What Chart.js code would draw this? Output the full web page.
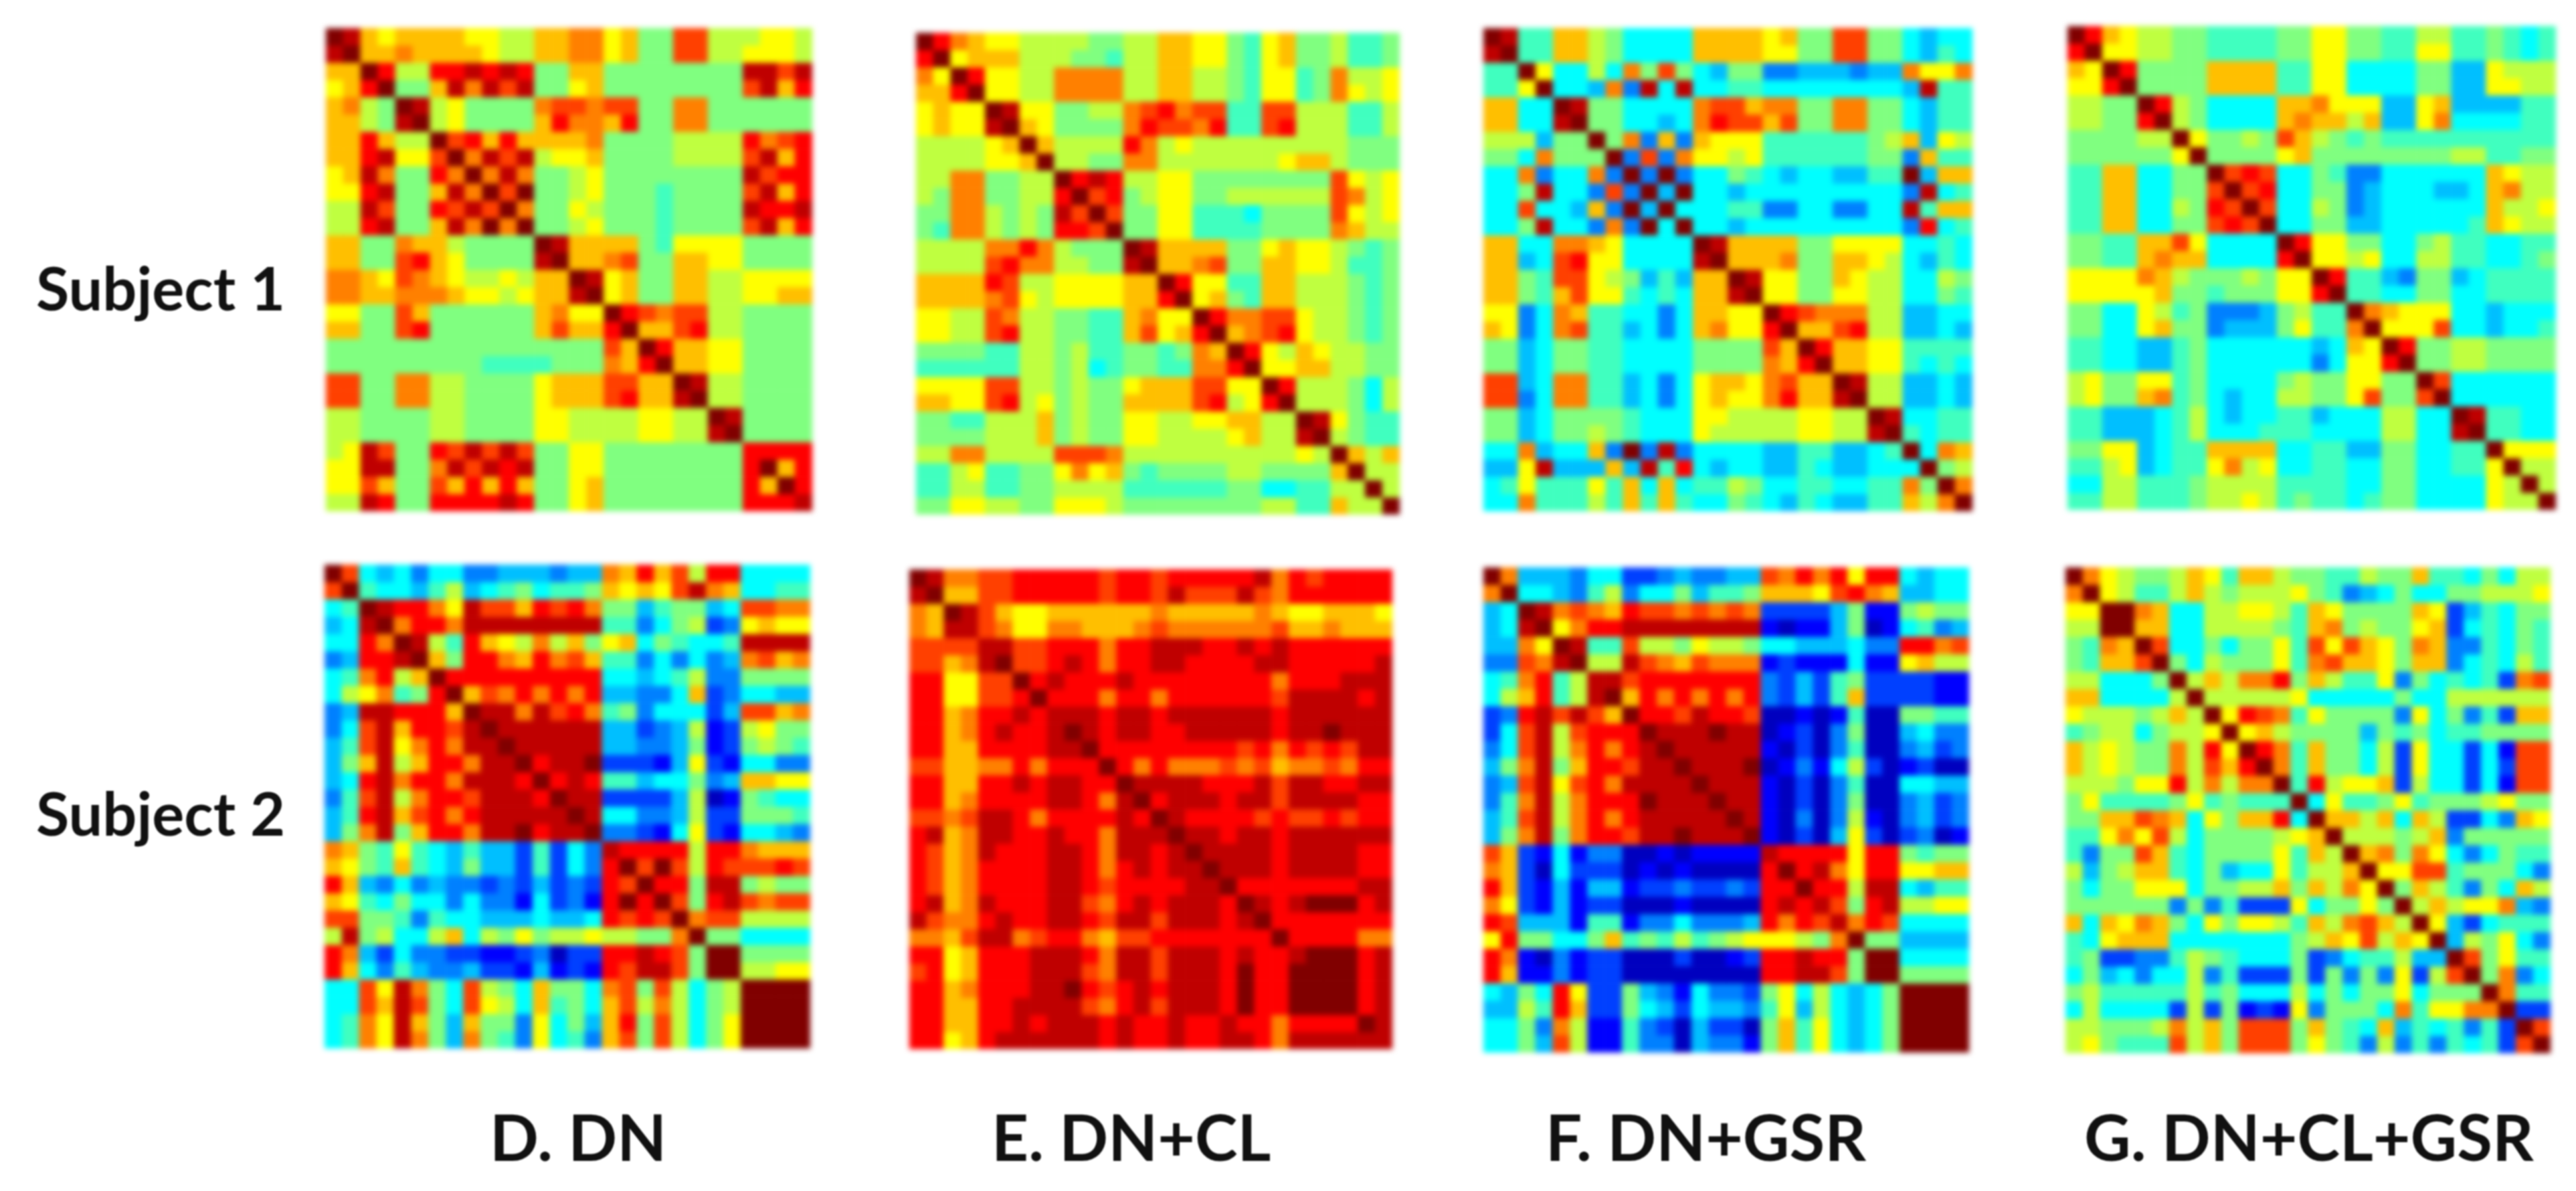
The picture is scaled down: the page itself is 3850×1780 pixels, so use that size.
<!DOCTYPE html>
<html>
<head>
<meta charset="utf-8">
<title>Connectivity matrices</title>
<script src="https://cdn.jsdelivr.net/npm/chart.js@4"></script>
<style>
  html, body { margin: 0; background: #fff; }
  #page { position: relative; width: 3850px; height: 1780px; overflow: hidden; }
  .panel { position: absolute; filter: blur(4px); }
  .label {
    position: absolute;
    font-family: Lato, sans-serif;
    font-weight: 700;
    color: #111;
    white-space: nowrap;
    filter: blur(1px);
  }
</style>
</head>
<body>
<div id="page"></div>
<script>
// Matrices are symmetric, so each row holds the cells from the diagonal to the right edge.
// Levels 0-15 run along the jet colormap, 15 being the dark red of the diagonal.
const subject1DN = [
  [15,14,10,9,10,10,10,10,9,9,8,8,10,10,11,11,9,10,7,7,12,12,8,8,8,9,9,8],
  [15,10,10,11,10,10,10,10,9,8,8,10,10,11,11,9,10,7,7,12,12,8,8,9,9,9,8],
  [15,13,8,8,13,13,14,13,14,13,7,7,10,10,7,7,7,7,7,7,7,7,14,14,12,14],
  [15,7,7,10,14,11,14,12,14,7,7,9,10,7,7,7,7,7,7,7,7,12,14,10,13],
  [15,14,8,9,7,7,7,7,11,12,12,11,12,12,7,7,11,11,7,7,7,7,7,7],
  [15,8,9,7,7,7,7,10,13,11,11,10,13,7,7,11,11,7,7,7,7,7,7],
  [15,12,13,10,13,10,10,10,10,11,7,7,7,7,8,8,8,8,13,11,12,13],
  [15,11,14,12,14,8,9,9,10,7,7,7,7,8,8,8,8,12,14,10,13],
  [15,11,14,11,7,7,8,9,7,7,7,7,7,7,7,7,14,12,13,13],
  [15,12,15,7,7,8,9,7,7,7,6,7,7,7,7,12,14,10,13],
  [15,11,7,7,9,8,7,7,7,6,7,7,7,7,14,13,13,14],
  [15,7,7,8,9,7,7,7,6,7,7,7,7,12,14,10,13],
  [15,14,10,10,10,10,7,6,9,9,9,9,7,7,7,7],
  [15,10,10,11,12,7,7,10,10,9,9,7,7,7,7],
  [15,14,9,10,7,7,10,10,8,8,9,9,9,9],
  [15,9,10,7,7,10,10,8,8,9,9,10,10],
  [15,13,12,11,12,12,8,8,7,7,7,7],
  [15,10,10,12,13,8,8,7,7,7,7],
  [15,13,10,10,9,9,7,7,7,7],
  [15,10,10,9,9,7,7,7,7],
  [15,14,8,8,7,7,7,7],
  [15,8,8,7,7,7,7],
  [15,14,7,7,7,7],
  [15,7,7,7,7],
  [13,13,13,13],
  [15,10,13],
  [15,13],
  [14]
];
const subject1CL = [
  [15,13,11,10,9,9,8,8,8,8,7,7,8,8,10,10,9,9,7,6,9,10,7,7,8,6,6,7],
  [15,9,10,10,10,8,8,8,7,7,6,8,8,10,10,9,9,7,6,9,10,7,7,8,6,6,7],
  [15,13,9,9,8,8,11,11,11,11,8,8,10,10,8,8,7,6,9,9,6,7,11,8,8,9],
  [15,9,9,8,8,11,11,11,11,8,8,10,10,8,8,7,6,9,9,6,7,11,9,8,9],
  [15,14,9,9,7,7,8,8,11,12,13,11,12,12,6,6,12,12,8,8,8,6,6,8],
  [15,10,9,7,7,7,7,11,13,12,12,11,13,6,6,12,13,8,8,8,6,6,8],
  [15,10,8,8,8,8,13,11,8,9,8,8,8,8,8,8,8,8,8,7,7,7],
  [15,8,8,7,7,11,11,8,8,8,8,8,8,8,9,10,10,8,7,7,7],
  [15,13,14,13,8,8,9,9,7,7,7,7,7,7,7,7,12,9,8,9],
  [15,12,13,7,8,9,9,7,7,8,8,8,8,8,8,12,11,8,9],
  [15,12,7,7,9,9,6,6,6,5,7,7,7,7,12,9,8,9],
  [15,7,7,9,9,6,6,6,6,7,7,7,7,11,10,8,8],
  [15,14,10,10,10,10,7,7,9,10,9,9,8,7,6,7],
  [15,10,10,11,12,7,7,10,10,9,9,8,6,6,7],
  [15,13,9,9,6,6,10,10,8,8,8,7,6,7],
  [15,9,10,7,6,10,10,8,8,8,7,6,7],
  [15,13,11,11,12,12,9,8,8,7,6,7],
  [15,10,11,12,13,9,8,8,7,6,7],
  [15,13,9,8,10,9,8,8,7,7],
  [15,9,9,10,10,8,8,7,7],
  [15,13,8,8,8,7,5,8],
  [15,8,8,8,7,5,8],
  [15,14,9,7,6,6],
  [15,8,7,6,6],
  [15,10,8,10],
  [15,8,8],
  [15,8],
  [15]
];
const subject1GSR = [
  [15,14,6,6,10,10,8,7,5,5,5,5,10,10,10,10,9,10,7,7,12,12,7,7,5,4,5,5],
  [15,6,6,10,10,8,7,5,5,5,5,10,10,10,10,9,9,7,7,12,12,7,7,5,4,6,5],
  [15,9,5,5,8,5,11,7,12,7,5,4,7,7,3,3,4,4,4,3,4,4,11,9,9,11],
  [15,5,5,4,11,3,14,5,14,5,5,6,6,5,5,5,5,5,5,5,5,4,14,6,6],
  [15,14,7,7,5,5,5,5,11,12,12,10,11,11,7,7,11,11,7,7,5,4,6,6],
  [15,7,7,5,5,4,5,11,13,12,12,10,12,7,7,11,11,7,7,5,4,6,6],
  [15,7,11,3,10,3,10,9,9,9,6,6,6,6,6,6,7,8,10,4,9,8],
  [15,3,12,3,11,9,9,8,9,6,6,6,6,6,6,7,7,3,10,6,6],
  [15,3,15,3,5,5,7,6,5,4,5,5,4,4,6,6,15,4,10,10],
  [15,4,15,5,5,4,5,5,5,5,5,5,5,5,5,3,14,5,6],
  [15,5,5,5,6,6,3,3,5,5,3,3,5,5,14,6,10,10],
  [15,5,5,4,5,5,5,5,5,5,5,5,5,3,13,5,6],
  [15,14,10,10,10,10,7,7,9,9,9,9,5,5,6,5],
  [15,10,10,10,11,7,7,10,10,9,8,5,4,6,5],
  [15,14,9,9,7,7,10,9,8,8,5,5,8,7],
  [15,9,9,7,7,9,9,8,8,5,5,7,6],
  [15,13,12,11,11,11,8,8,4,4,5,5],
  [15,10,10,12,13,8,8,4,4,5,4],
  [15,13,10,10,9,9,6,6,6,6],
  [15,10,10,9,9,6,5,6,5],
  [15,14,8,8,4,4,5,4],
  [15,8,8,4,4,5,4],
  [15,14,5,5,6,6],
  [15,6,5,6,6],
  [15,5,11,10],
  [15,7,8],
  [15,11],
  [15]
];
const subject1CLGSR = [
  [15,13,10,9,8,8,7,7,6,6,6,6,7,7,9,9,7,7,6,6,8,8,6,6,7,6,5,6],
  [15,9,9,8,8,7,7,6,6,6,6,7,7,9,9,7,7,6,6,9,9,6,6,7,6,5,6],
  [15,13,7,7,7,7,10,10,10,10,6,6,9,9,5,5,5,5,7,7,4,4,9,8,8,8],
  [15,7,7,7,7,10,10,10,10,6,6,9,9,5,5,5,5,7,7,4,4,9,9,8,8],
  [15,13,8,7,5,5,5,5,10,10,11,9,9,9,4,4,9,10,4,4,4,4,6,6],
  [15,8,7,5,5,5,5,10,11,10,10,8,10,4,4,9,11,5,5,5,5,6,6],
  [15,9,7,7,8,7,12,10,8,7,6,7,6,6,6,6,6,6,6,6,6,6],
  [15,7,7,7,7,9,10,7,7,7,7,7,7,7,7,8,8,6,6,7,7],
  [15,12,13,12,5,5,7,6,3,3,5,5,5,5,5,5,10,9,8,8],
  [15,12,13,5,5,7,7,3,4,5,5,5,4,4,5,10,11,8,8],
  [15,12,5,5,8,7,3,4,5,5,5,5,5,5,10,8,8,9],
  [15,5,5,7,7,4,4,5,5,5,5,5,6,10,9,8,8],
  [15,13,9,9,7,7,5,5,7,8,6,6,5,5,6,6],
  [15,9,9,8,9,5,5,8,8,6,6,5,5,6,7],
  [15,13,6,6,4,3,7,7,4,5,6,6,6,6],
  [15,6,6,5,5,7,7,5,5,6,6,6,6],
  [15,11,10,9,9,9,5,5,4,5,5,5],
  [15,9,9,9,12,5,5,4,5,5,6],
  [15,13,7,7,8,8,7,7,7,7],
  [15,7,7,8,8,7,7,7,7],
  [15,12,5,5,5,5,5,5],
  [15,5,5,5,5,5,5],
  [15,14,6,6,5,5],
  [15,6,6,5,5],
  [15,9,9,9],
  [15,8,8],
  [15,8],
  [15]
];
const subject2DN = [
  [15,12,5,4,5,3,5,5,3,3,4,4,4,3,4,4,11,10,13,10,12,8,13,13,5,5,5,5],
  [15,6,5,5,4,6,8,4,5,6,7,5,6,6,7,10,9,10,9,12,14,11,10,5,5,6,6],
  [15,14,13,13,11,9,14,12,12,10,13,12,13,11,7,7,4,6,7,7,4,5,12,12,11,11],
  [15,11,13,13,11,14,14,14,14,14,14,14,14,6,6,3,5,7,8,2,3,9,10,9,9],
  [15,14,8,6,13,10,9,8,11,8,10,7,9,10,5,7,6,5,5,6,14,14,14,14],
  [15,10,7,13,13,11,10,13,11,12,10,6,6,3,5,3,5,3,4,11,12,10,11],
  [15,13,13,13,13,13,13,13,13,13,5,5,4,5,6,8,3,3,7,7,7,7],
  [15,10,12,11,13,11,13,11,13,4,4,3,3,5,10,2,3,5,5,4,4],
  [15,14,14,11,14,12,13,11,6,7,3,5,5,5,2,4,12,12,10,11],
  [15,14,14,14,14,14,14,4,4,2,3,4,8,1,2,8,9,7,7],
  [15,14,14,14,14,14,4,4,3,3,4,7,1,2,7,8,7,6],
  [15,13,14,14,15,2,2,2,1,4,9,2,1,5,5,3,3],
  [15,13,14,13,6,6,4,5,5,7,3,4,10,10,9,9],
  [15,14,14,2,2,2,2,4,8,0,1,7,6,5,5],
  [15,14,5,5,3,3,4,8,2,2,7,7,7,6],
  [15,3,3,2,1,5,9,2,1,5,5,4,3],
  [14,13,13,13,13,8,13,13,11,10,10,10],
  [15,12,15,12,8,13,12,12,12,13,12],
  [15,13,13,7,14,14,7,8,7,7],
  [15,12,7,13,14,12,11,12,12],
  [15,11,12,12,8,8,8,8],
  [15,7,7,5,5,5,5],
  [15,15,7,7,7,7],
  [15,8,8,9,9],
  [15,15,15,15],
  [15,15,15],
  [15,15],
  [15]
];
const subject2CL = [
  [15,14,11,11,12,12,13,13,13,13,13,12,13,13,12,13,13,13,13,13,14,11,13,12,13,13,13,13],
  [15,10,10,12,12,13,13,13,13,13,12,13,13,12,14,12,12,12,14,12,11,13,13,13,13,13,13],
  [15,14,12,10,9,9,10,10,10,10,10,10,11,10,10,10,10,10,11,10,9,9,10,10,10,9],
  [14,12,11,9,9,11,11,10,10,10,11,12,11,11,11,11,11,11,12,10,10,11,10,10,10],
  [14,14,12,12,13,13,13,11,13,13,14,14,14,13,13,14,13,14,13,13,13,13,13,13],
  [15,12,12,13,14,13,11,13,13,14,14,13,13,13,13,14,14,13,13,13,13,13,14],
  [15,13,14,13,13,13,14,13,13,13,13,13,13,13,13,11,13,13,13,14,14,14],
  [15,13,13,13,11,13,13,11,13,13,13,13,13,13,12,14,14,14,14,13,14],
  [14,14,14,13,14,14,13,14,14,14,14,14,14,13,14,14,14,14,14,14],
  [15,14,13,14,14,13,13,14,14,14,14,14,13,14,14,15,14,14,14],
  [15,13,13,13,13,13,13,13,13,12,13,11,13,12,13,12,14,14],
  [15,13,11,13,11,11,11,12,11,12,10,11,11,12,11,13,13],
  [15,14,14,14,14,13,13,13,14,12,14,14,13,13,14,14],
  [15,13,14,14,14,13,14,14,12,14,14,14,14,13,13],
  [15,14,13,13,13,13,12,13,12,12,13,12,13,13],
  [15,14,14,13,14,14,13,14,14,14,14,14,14],
  [15,14,14,14,14,13,14,14,14,14,13,13],
  [15,14,14,14,13,14,14,14,14,13,13],
  [15,13,13,13,13,13,13,13,14,14],
  [15,14,13,14,15,15,15,13,14],
  [15,13,13,13,13,13,13,13],
  [15,13,13,13,13,11,11],
  [14,15,15,15,13,14],
  [15,15,15,13,14],
  [15,15,13,14],
  [15,13,14],
  [15,14],
  [14]
];
const subject2GSR = [
  [15,11,4,4,4,3,5,5,2,2,3,4,3,3,4,4,12,11,13,11,13,9,13,13,5,4,5,5],
  [15,5,5,4,3,6,8,3,5,5,7,4,6,6,7,10,10,10,9,12,13,11,10,4,4,5,5],
  [15,14,11,12,11,10,13,12,12,11,12,11,12,11,2,2,2,2,4,7,1,1,7,8,7,7],
  [15,9,11,13,13,14,14,14,14,14,14,14,14,1,0,1,1,4,7,0,1,5,6,3,4],
  [15,14,6,6,12,8,8,7,9,8,8,7,5,5,4,4,4,5,3,3,13,13,11,12],
  [15,8,8,14,12,11,10,12,11,11,11,1,2,1,1,1,5,1,1,9,10,8,8],
  [14,14,12,13,13,13,13,13,13,13,3,2,4,2,6,7,2,2,2,2,1,1],
  [15,10,13,11,13,11,13,11,13,3,2,4,2,6,10,2,2,2,2,1,1],
  [15,13,13,12,14,13,13,12,0,0,1,0,1,6,0,0,7,7,6,6],
  [15,14,14,14,15,14,14,0,1,2,0,3,7,0,0,4,5,3,3],
  [15,14,14,14,14,14,1,0,2,0,3,6,0,0,3,4,2,3],
  [15,14,14,14,15,0,1,3,1,5,8,2,0,1,2,0,0],
  [15,14,14,14,1,0,2,0,3,6,0,0,5,5,4,4],
  [15,14,14,1,0,2,0,3,7,0,0,3,4,2,3],
  [15,14,1,0,3,0,3,8,1,0,3,4,2,3],
  [15,1,0,2,0,4,9,2,0,2,3,0,1],
  [14,13,13,13,13,9,13,13,7,6,7,7],
  [15,13,14,11,9,13,13,9,9,10,10],
  [15,13,13,8,14,14,5,4,6,6],
  [14,12,7,13,14,8,8,9,9],
  [14,11,13,12,5,5,5,5],
  [15,7,7,4,4,4,4],
  [15,15,5,5,5,5],
  [15,7,7,7,7],
  [15,15,15,15],
  [15,15,15],
  [15,15],
  [15]
];
const subject2CLGSR = [
  [15,11,9,8,7,7,8,10,9,6,10,10,8,7,7,6,6,8,7,7,10,6,6,5,7,5,8,8],
  [15,9,8,6,6,8,10,8,7,8,8,8,9,7,6,3,4,5,7,5,5,7,7,8,8,8,9],
  [15,15,11,10,5,5,8,8,9,9,8,6,10,9,7,7,7,7,10,9,2,4,6,5,7,7],
  [15,10,10,5,5,8,8,8,8,7,6,10,11,7,8,7,7,9,10,2,5,6,5,7,6],
  [15,12,5,5,7,5,7,7,9,6,12,9,12,10,9,7,11,10,3,3,6,5,7,6],
  [15,7,5,8,7,7,7,9,6,11,12,10,10,9,7,10,10,3,5,6,5,8,6],
  [15,8,10,8,11,11,13,7,10,8,6,6,9,3,7,5,6,5,6,2,11,12],
  [15,8,8,8,8,8,9,5,5,5,5,5,7,5,5,8,8,8,8,8,8],
  [15,9,13,12,11,6,9,7,7,7,7,3,9,5,7,3,6,2,10,10],
  [15,9,10,8,7,7,7,7,4,7,6,7,5,6,6,7,7,7,7],
  [15,13,11,6,10,7,7,5,8,2,9,5,5,2,5,1,12,12],
  [15,11,6,10,7,7,5,8,2,9,5,5,2,5,2,12,12],
  [15,6,13,8,9,9,10,2,8,5,5,2,5,1,12,12],
  [15,5,9,6,6,7,9,6,7,7,7,8,9,7,7],
  [15,10,10,8,10,5,10,8,2,2,5,3,10,9],
  [15,8,8,8,7,8,10,3,7,7,7,7,7],
  [15,10,11,7,11,9,5,3,5,7,6,6],
  [15,9,9,12,12,6,7,7,7,5,3],
  [15,7,10,8,6,3,7,5,10,8],
  [15,8,10,8,9,9,11,4,3],
  [15,9,4,2,5,6,6,6],
  [15,4,8,7,9,5,3],
  [15,12,7,9,6,6],
  [15,7,11,3,5],
  [15,11,6,6],
  [15,2,2],
  [15,12],
  [15]
];

const rowLabels = ["Subject 1", "Subject 2"];
const columnLabels = ["D. DN", "E. DN+CL", "F. DN+GSR", "G. DN+CL+GSR"];
const cellCount = 28;

// Where each matrix sits on the page
const panels = [
  { data: subject1DN, x: 487, y: 42, w: 727, h: 722 },
  { data: subject1CL, x: 1369, y: 49, w: 723, h: 720 },
  { data: subject1GSR, x: 2217, y: 42, w: 731, h: 722 },
  { data: subject1CLGSR, x: 3090, y: 39, w: 730, h: 723 },
  { data: subject2DN, x: 485, y: 844, w: 726, h: 723 },
  { data: subject2CL, x: 1359, y: 851, w: 722, h: 717 },
  { data: subject2GSR, x: 2217, y: 848, w: 726, h: 725 },
  { data: subject2CLGSR, x: 3087, y: 848, w: 725, h: 726 }
];

const page = document.getElementById("page");

// Jet colormap for a level 0-15
function jetColor(level) {
  const t = (level + 1) / 16;
  const part = v => Math.round(255 * Math.max(0, Math.min(1, 1.5 - Math.abs(4 * t - v))));
  return `rgb(${part(3)},${part(2)},${part(1)})`;
}

function cellLevel(matrix, row, col) {
  return row <= col ? matrix[row][col - row] : matrix[col][row - col];
}

// One stacked bar per column, one dataset per row
function drawPanel(panel) {
  const canvas = document.createElement("canvas");
  canvas.width = panel.w;
  canvas.height = panel.h;
  canvas.className = "panel";
  canvas.style.left = panel.x + "px";
  canvas.style.top = panel.y + "px";
  page.appendChild(canvas);

  const labels = [];
  for (let c = 0; c < cellCount; c++) labels.push(c + 1);

  const datasets = [];
  for (let r = 0; r < cellCount; r++) {
    datasets.push({
      data: labels.map(() => 1),
      backgroundColor: labels.map((l, c) => jetColor(cellLevel(panel.data, r, c))),
      borderWidth: 0,
      barPercentage: 1,
      categoryPercentage: 1
    });
  }

  new Chart(canvas, {
    type: "bar",
    data: { labels, datasets },
    options: {
      responsive: false,
      animation: false,
      layout: { padding: 0 },
      plugins: { legend: { display: false }, tooltip: { enabled: false } },
      scales: {
        x: { display: false, stacked: true },
        y: { display: false, stacked: true, reverse: true, min: 0, max: cellCount }
      }
    }
  });
}

function addLabel(text, left, top, size) {
  const div = document.createElement("div");
  div.className = "label";
  div.textContent = text;
  div.style.left = left + "px";
  div.style.top = top + "px";
  div.style.fontSize = size + "px";
  page.appendChild(div);
}

panels.forEach(drawPanel);

addLabel(rowLabels[0], 54, 375, 90);
addLabel(rowLabels[1], 54, 1160, 90);
addLabel(columnLabels[0], 732, 1640, 96);
addLabel(columnLabels[1], 1482, 1640, 96);
addLabel(columnLabels[2], 2310, 1640, 96);
addLabel(columnLabels[3], 3115, 1640, 96);
</script>
</body>
</html>
